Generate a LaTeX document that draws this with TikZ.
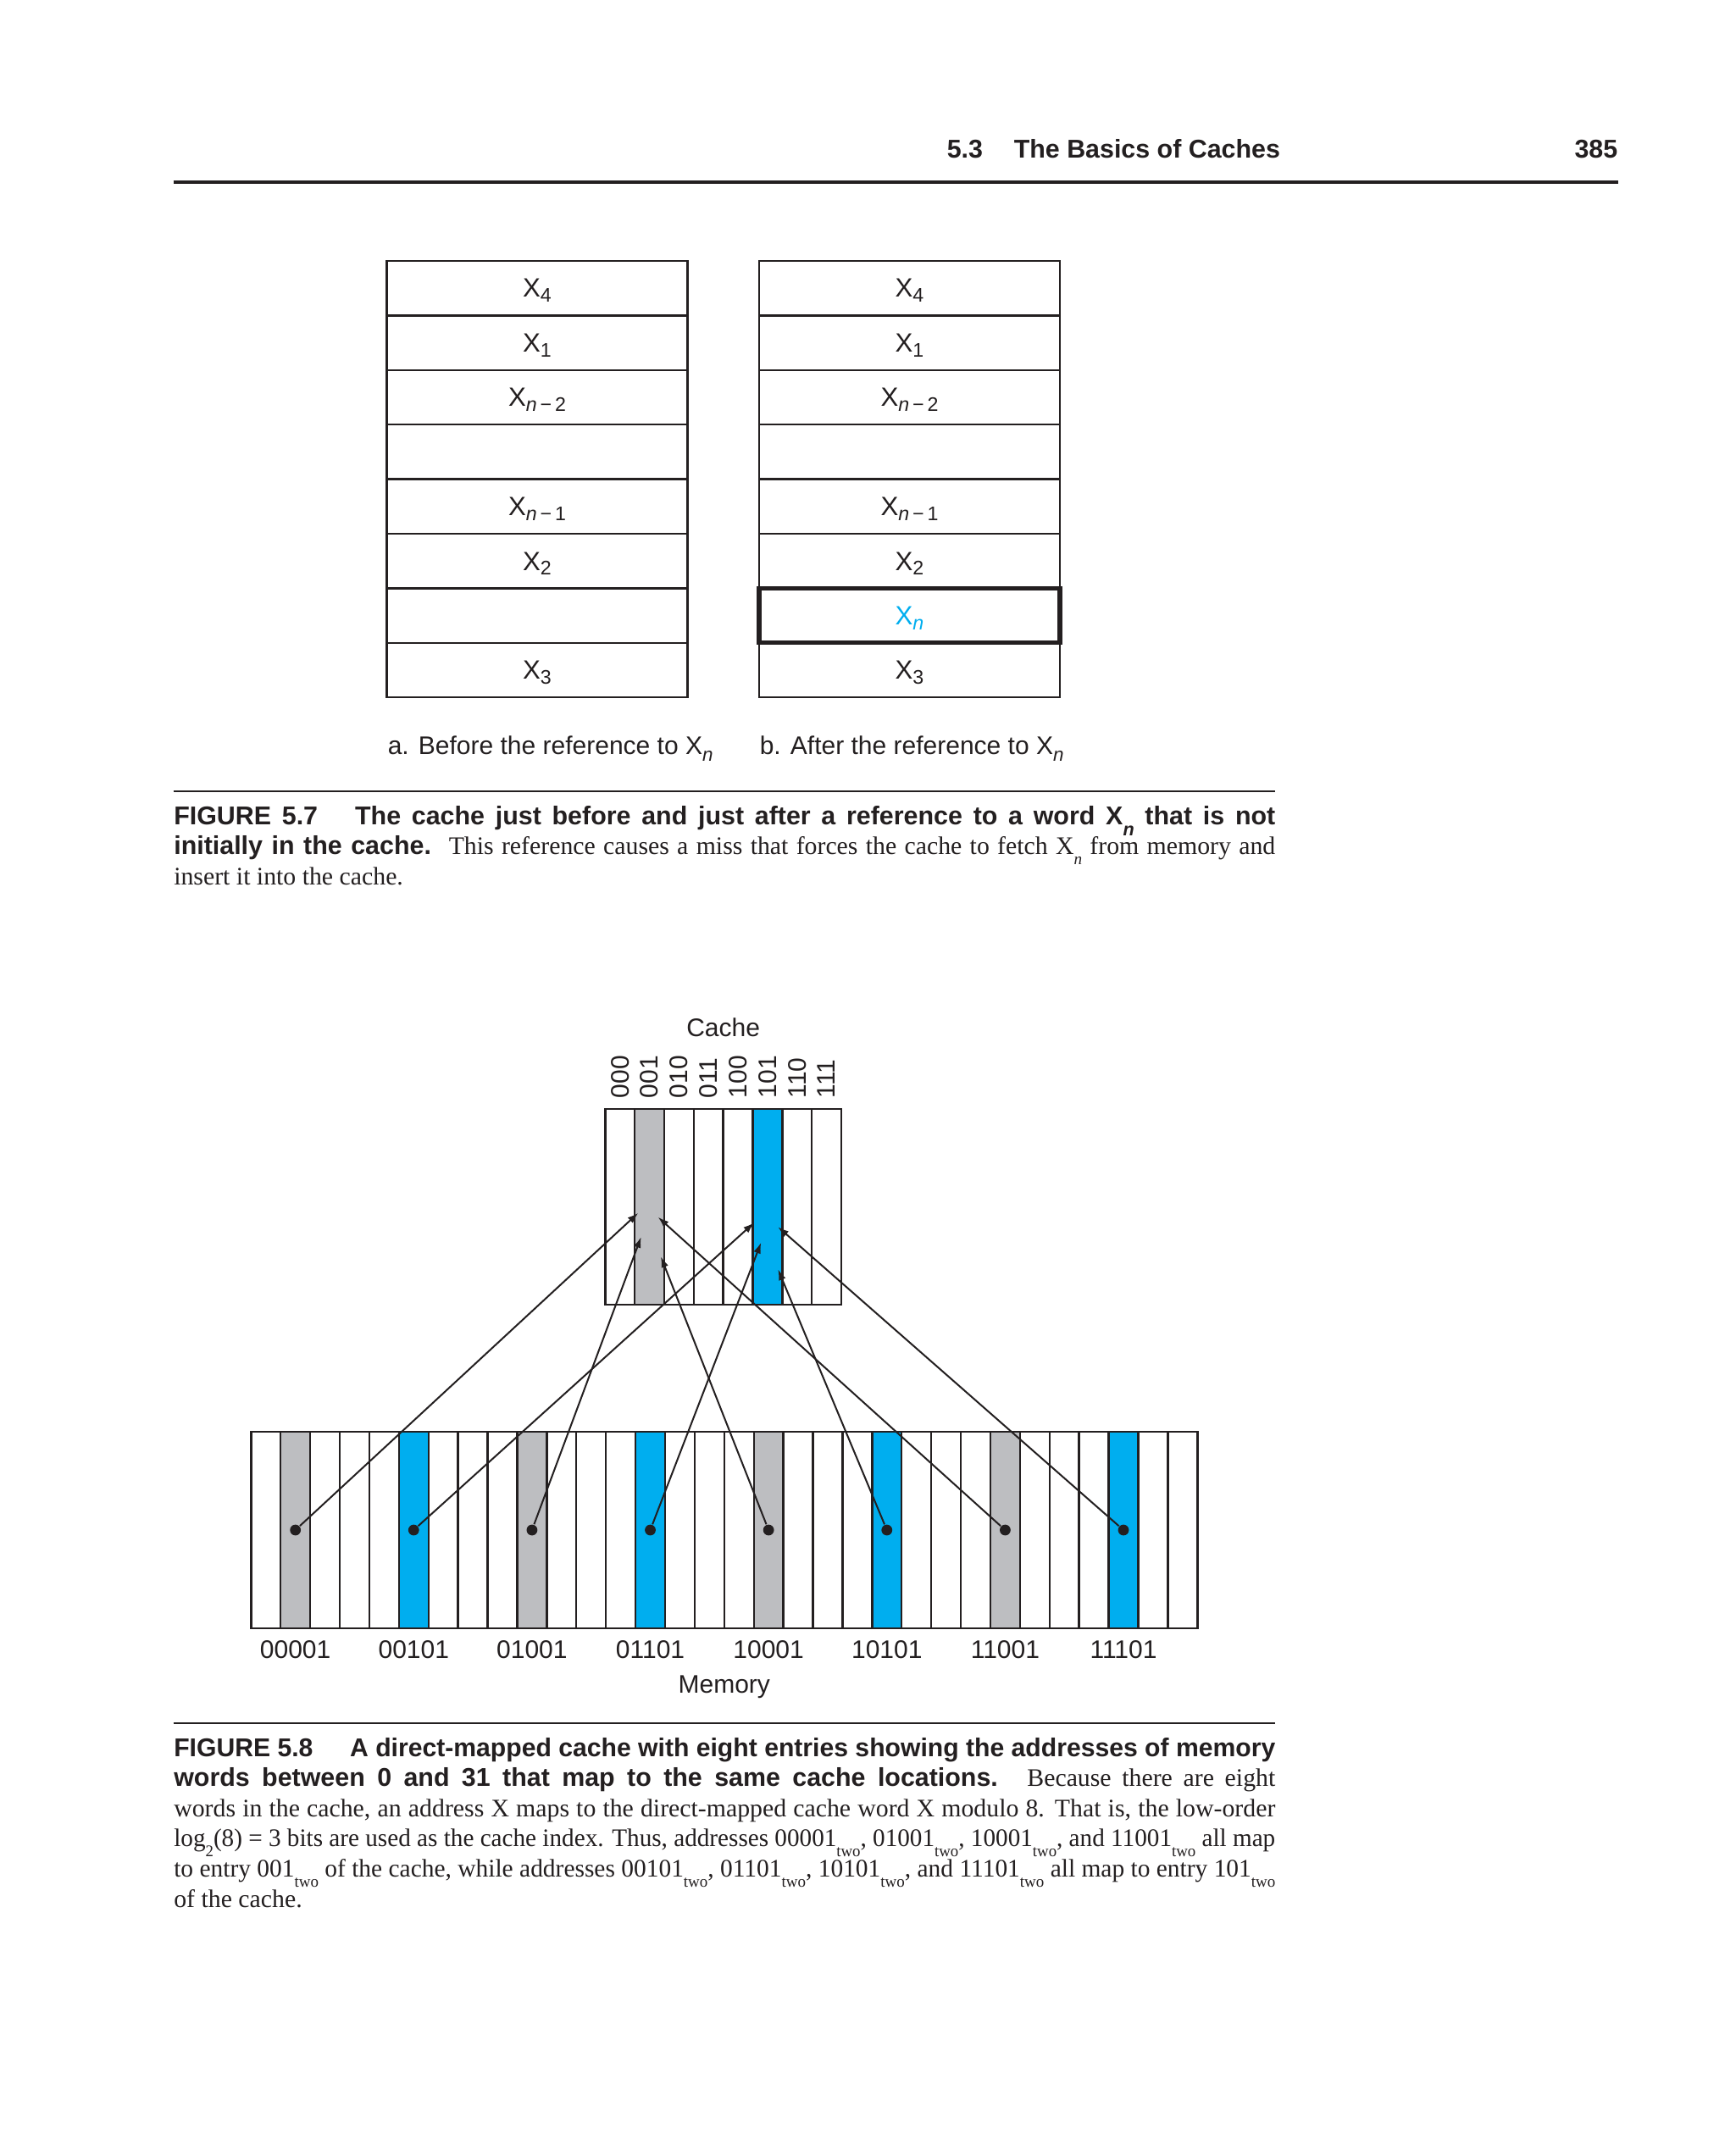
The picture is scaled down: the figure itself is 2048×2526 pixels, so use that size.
\documentclass[tikz,border=0pt]{standalone}
\usepackage{fontspec}
\usepackage{graphicx}
\setmainfont{Liberation Serif}
\newfontfamily\dsans{Liberation Sans}
\usetikzlibrary{arrows.meta}
\definecolor{cblue}{HTML}{00AEEF}
\definecolor{cgray}{HTML}{BDBEC1}
\definecolor{ink}{HTML}{231F20}
\newlength\capw \setlength\capw{325pt}
\newsavebox\capbox
\newcommand\capline[1]{\sbox\capbox{#1}\ifdim\wd\capbox>\capw\resizebox{\capw}{\height}{\usebox\capbox}\else\makebox[\capw][s]{#1}\fi}
\newcommand\lsub[1]{\raisebox{-0.4em}{\fontsize{4.8pt}{5pt}\selectfont #1}}
\newcommand\bsub[1]{\raisebox{-0.45em}{\fontsize{5.4pt}{6pt}\selectfont\itshape #1}}
\newcommand\figsub[1]{\raisebox{-1.4pt}{\fontsize{5.8pt}{6pt}\selectfont #1}}
\newcommand\capsub[1]{\raisebox{-2pt}{\fontsize{5.6pt}{6pt}\selectfont #1}}
\newcommand\bsf{\dsans\bfseries\fontsize{7.6pt}{9pt}\selectfont}
\newcommand\bodyf{\rmfamily\fontsize{7.45pt}{8.9pt}\selectfont}
\begin{document}
\begin{tikzpicture}[x=0.25pt,y=-0.25pt,
  cellbox/.style={draw=ink, line width=0.6pt, minimum width=88.75pt, minimum height=16.1pt, inner sep=0pt},
  lab/.style={font=\dsans\fontsize{7.5pt}{9pt}\selectfont, inner sep=0pt, text=ink},
  xlab/.style={font=\dsans\fontsize{7.8pt}{9pt}\selectfont, inner sep=0pt, anchor=base, text=ink},
  dotn/.style={circle, fill=ink, inner sep=0pt, minimum size=3.2pt},
  arr/.style={draw=ink, line width=0.5pt, -{Latex[length=3.2pt,width=2.2pt]}},
  capl/.style={anchor=base west, inner sep=0pt, text=ink},
  gridline/.style={draw=ink, line width=0.6pt},
  rulel/.style={draw=ink, line width=0.6pt}]
\useasboundingbox (0,0) rectangle (2048,2526);
\fill[white] (0,0) rectangle (2048,2526);

% ---------- header ----------
\node[capl] (hnum) at (1117,187) {\bsf 5.3};
\node[capl] (htitle) at (1196,187) {\bsf The Basics of Caches};
\node[anchor=base east, inner sep=0pt, text=ink] (hpage) at (1910,187) {\bsf 385};
\draw[draw=ink, line width=0.8pt] (204.5,215) -- (1910,215);

% ---------- Figure 5.7 ----------
\foreach \r in {0,...,7} {
  \node[cellbox] (a\r) at (634,{308+(\r+0.5)*64.4}) {};
  \node[cellbox] (b\r) at (1073.5,{308+(\r+0.5)*64.4}) {};
}
\node[cellbox, line width=1.3pt] (bn) at (1073.5,{308+6.5*64.4}) {};
\foreach \r/\t in {0/X\figsub{4},1/X\figsub{1},2/X\figsub{\textit{n}\,−\,2},4/X\figsub{\textit{n}\,−\,1},5/X\figsub{2},7/X\figsub{3}} {
  \node[xlab] (ta\r) at (634,{308+\r*64.4+43}) {\t};
  \node[xlab] (tb\r) at (1073.5,{308+\r*64.4+43}) {\t};
}
\node[xlab, text=cblue] (tbn) at (1073.5,{308+6*64.4+43}) {X\figsub{\textit{n}}};

\node[lab, anchor=base west] (capa) at (457,890) {a. Before the reference to X\capsub{\textit{n}}};
\node[lab, anchor=base west] (capb) at (896,890) {b. After the reference to X\capsub{\textit{n}}};

\draw[rulel] (204.5,934) -- (1505,934);
\node[capl] (c7a) at (204.5,973) {\capline{{\bsf FIGURE 5.7\hspace{11pt}The cache just before and just after a reference to a word X\bsub{n} that is not}}};
\node[capl] (c7b) at (204.5,1008.6) {\capline{{\bsf initially in the cache.} {\bodyf This reference causes a miss that forces the cache to fetch X\lsub{\itshape n} from memory and}}};
\node[capl] (c7c) at (204.5,1044.2) {\bodyf insert it into the cache.};

% ---------- Figure 5.8 : cache ----------
\node[lab, anchor=base] (cachelab) at (853.6,1223) {Cache};
\fill[cgray] ({714.3+1*34.84},1308.7) rectangle ++(34.84,231.5);
\fill[cblue] ({714.3+5*34.84},1308.7) rectangle ++(34.84,231.5);
\foreach \k in {1,...,7} \draw[gridline] ({714.3+\k*34.84},1308.7) -- ++(0,231.5);
\draw[gridline] (714.3,1308.7) rectangle (993,1540.2);
\foreach \t [count=\i from 0] in {000,001,010,011,100,101,110,111}
  \node[lab, rotate=90, anchor=west] (cl\i) at ({714.3+(\i+0.5)*34.84},1297) {\t};

% ---------- memory ----------
\foreach \k in {1,9,17,25} \fill[cgray] ({296.3+\k*34.906},1690) rectangle ++(34.906,232);
\foreach \k in {5,13,21,29} \fill[cblue] ({296.3+\k*34.906},1690) rectangle ++(34.906,232);
\foreach \k in {1,...,31} \draw[gridline] ({296.3+\k*34.906},1690) -- ++(0,232);
\draw[gridline] (296.3,1690) rectangle (1413.3,1922);
\foreach \k/\t [count=\i] in {1/00001,5/00101,9/01001,13/01101,17/10001,21/10101,25/11001,29/11101} {
  \node[dotn] (m\i) at ({296.3+(\k+0.5)*34.906},1806) {};
  \node[lab, anchor=base] (ml\i) at ({296.3+(\k+0.5)*34.906},1957) {\t};
}
\node[lab, anchor=base] (memlab) at (854.8,1998) {Memory};

% arrow targets in cache
\coordinate (t1) at (753.3,1431.7);
\coordinate (t2) at (890,1443.3);
\coordinate (t3) at (756.7,1460);
\coordinate (t4) at (898.3,1466.7);
\coordinate (t5) at (780,1483.3);
\coordinate (t6) at (918.3,1498.3);
\coordinate (t7) at (776.7,1436.7);
\coordinate (t8) at (918.3,1448.3);
\foreach \i in {1,...,8} \draw[arr] (m\i) -- (t\i);

% ---------- caption 5.8 ----------
\draw[rulel] (204.5,2034) -- (1505,2034);
\node[capl] (c8a) at (204.5,2073) {\capline{{\bsf FIGURE 5.8\hspace{11pt}A direct-mapped cache with eight entries showing the addresses of memory}}};
\node[capl] (c8b) at (204.5,2108.6) {\capline{{\bsf words between 0 and 31 that map to the same cache locations.} {\bodyf Because there are eight}}};
\node[capl] (c8c) at (204.5,2144.2) {\capline{{\bodyf words in the cache, an address X maps to the direct-mapped cache word X modulo 8. That is, the low-order}}};
\node[capl] (c8d) at (204.5,2179.8) {\capline{{\bodyf log\lsub{2}(8) = 3 bits are used as the cache index. Thus, addresses 00001\lsub{two}, 01001\lsub{two}, 10001\lsub{two}, and 11001\lsub{two} all map}}};
\node[capl] (c8e) at (204.5,2215.4) {\capline{{\bodyf to entry 001\lsub{two} of the cache, while addresses 00101\lsub{two}, 01101\lsub{two}, 10101\lsub{two}, and 11101\lsub{two} all map to entry 101\lsub{two}}}};
\node[capl] (c8f) at (204.5,2251) {\bodyf of the cache.};
\end{tikzpicture}
\end{document}
